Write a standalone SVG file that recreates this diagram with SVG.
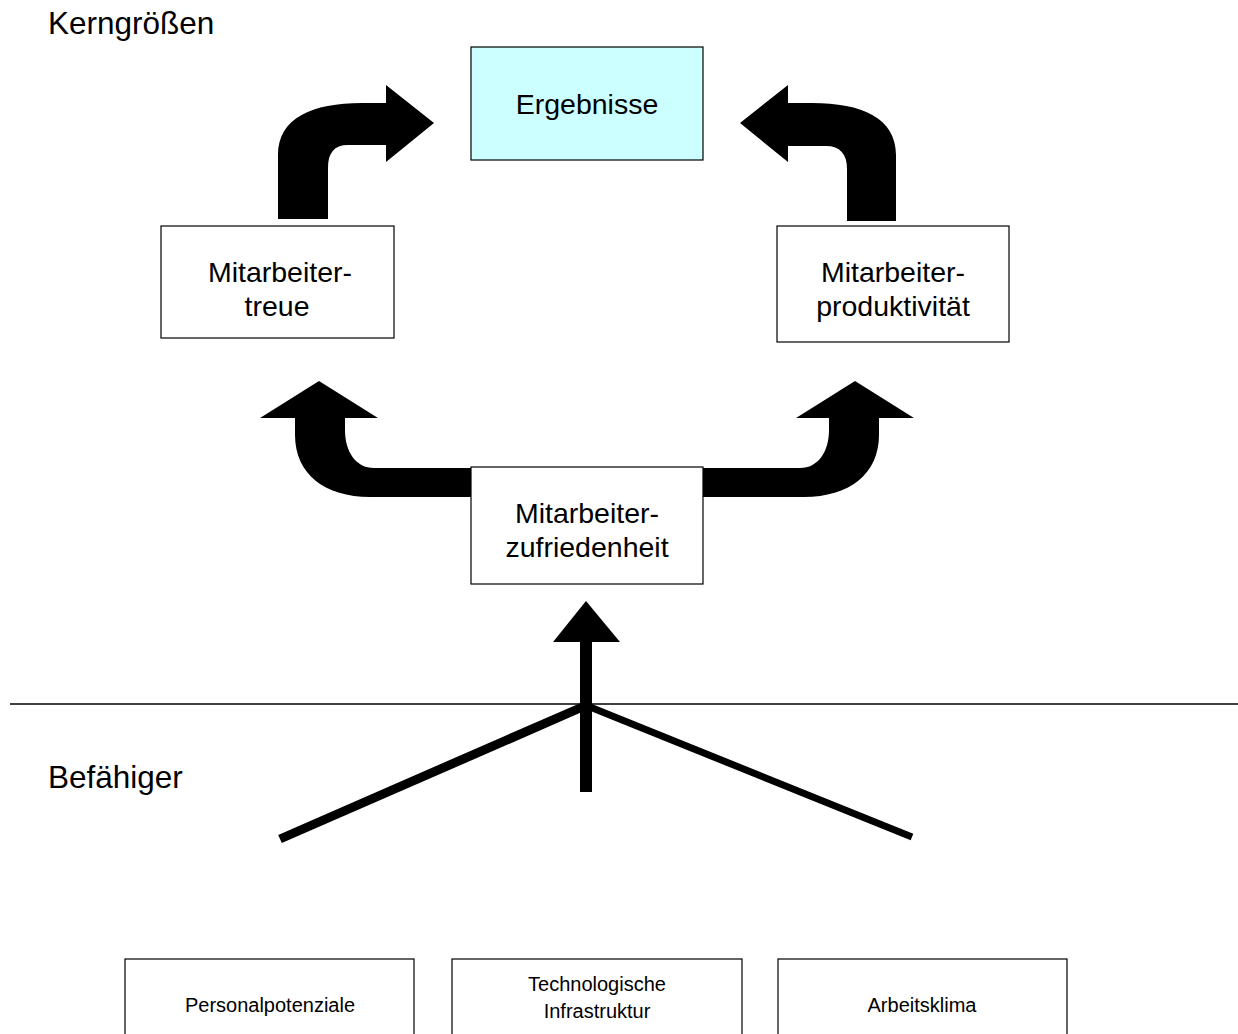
<svg xmlns="http://www.w3.org/2000/svg" width="1238" height="1034" viewBox="0 0 1238 1034">
<style>
.box{fill:#fff;stroke:#000;stroke-width:1.2}
.res{fill:#ccffff;stroke:#000;stroke-width:1.2}
.t{font-family:"Liberation Sans",Arial,sans-serif;font-size:28.5px;fill:#000;text-anchor:middle}
.s{font-family:"Liberation Sans",Arial,sans-serif;font-size:20px;fill:#000;text-anchor:middle}
.h{font-family:"Liberation Sans",Arial,sans-serif;font-size:31.5px;fill:#000}
.arr{fill:#000;stroke:none}
</style>
<rect width="1238" height="1034" fill="#fff"/>
<g id="labels">
<text class="h" x="48" y="34">Kerngrößen</text>
<text class="h" x="48" y="788">Befähiger</text>
</g>
<g id="connectors">
<path class="arr" d="M278,219 L278,155 C278,118 312,103 362,103 L386,103 L386,85 L434,123 L386,162 L386,145 L348,145 C334,145 328,153 328,168 L328,219 Z"/>
<path class="arr" d="M896,221 L896,155 C896,118 862,103 812,103 L788,103 L788,85 L740,123 L788,162 L788,146 L826,146 C840,146 847,154 847,169 L847,221 Z"/>
<path class="arr" d="M473,468 L374,468 C356,468 345,452 345,430 L345,418 L378,418 L319,381 L260,418 L295,418 L295,435 C295,474 325,497 370,497 L473,497 Z"/>
<path class="arr" d="M701,468 L800,468 C818,468 829,452 829,430 L829,418 L796,418 L855,381 L914,418 L879,418 L879,435 C879,474 849,497 804,497 L701,497 Z"/>
<line x1="10" y1="704" x2="1238" y2="704" stroke="#000" stroke-width="1.3"/>
<polygon class="arr" points="586,601 553,642 620,642"/>
<rect class="arr" x="580" y="641" width="12" height="151"/>
<line x1="280" y1="839" x2="587" y2="705" stroke="#000" stroke-width="9"/>
<line x1="585" y1="705" x2="912" y2="837" stroke="#000" stroke-width="7"/>
</g>
<g id="ergebnisse">
<rect class="res" x="471" y="47" width="232" height="113"/>
<text class="t" x="587" y="114">Ergebnisse</text>
</g>
<g id="treue">
<rect class="box" x="161" y="226" width="233" height="112"/>
<text class="t" x="280" y="282">Mitarbeiter-</text>
<text class="t" x="277" y="316">treue</text>
</g>
<g id="produktivitaet">
<rect class="box" x="777" y="226" width="232" height="116"/>
<text class="t" x="893" y="282">Mitarbeiter-</text>
<text class="t" x="893" y="316">produktivität</text>
</g>
<g id="zufriedenheit">
<rect class="box" x="471" y="467" width="232" height="117"/>
<text class="t" x="587" y="523">Mitarbeiter-</text>
<text class="t" x="587" y="557">zufriedenheit</text>
</g>
<g id="personal">
<rect class="box" x="125" y="959" width="289" height="100"/>
<text class="s" x="270" y="1012">Personalpotenziale</text>
</g>
<g id="technologie">
<rect class="box" x="452" y="959" width="290" height="100"/>
<text class="s" x="597" y="991">Technologische</text>
<text class="s" x="597" y="1018">Infrastruktur</text>
</g>
<g id="klima">
<rect class="box" x="778" y="959" width="289" height="100"/>
<text class="s" x="922" y="1012">Arbeitsklima</text>
</g>
</svg>
